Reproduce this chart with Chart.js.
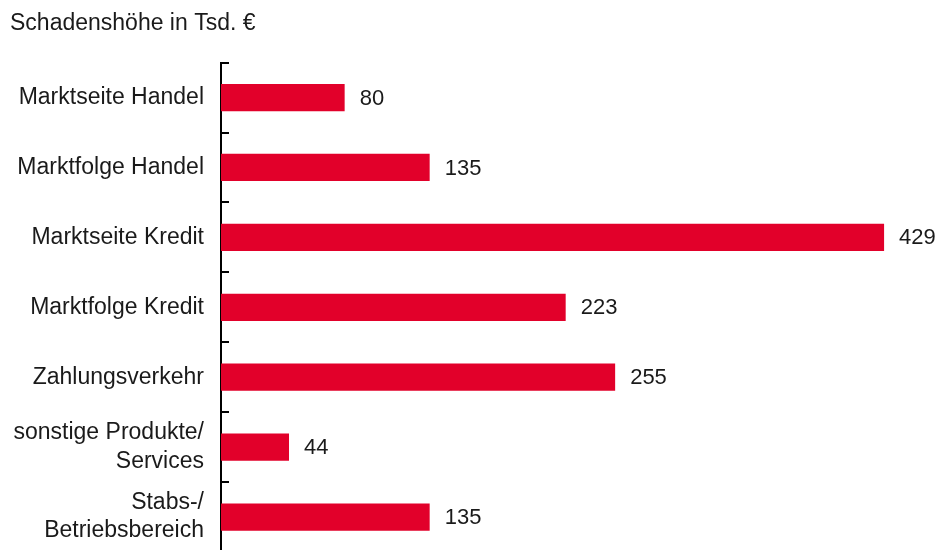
<!DOCTYPE html>
<html>
<head>
<meta charset="utf-8">
<script src="https://cdn.jsdelivr.net/npm/chart.js@4.4.0/dist/chart.umd.min.js"></script>
<style>
  html, body { margin: 0; padding: 0; background: #fff; }
  #wrap { width: 936px; height: 550px; overflow: hidden; }
  #damage_chart { display: block; width: 936px; height: 552px; }
</style>
</head>
<body>
<div id="wrap"><canvas id="damage_chart" width="936" height="552"></canvas></div>
<script>
// data
const categories = [
  'Marktseite Handel',
  'Marktfolge Handel',
  'Marktseite Kredit',
  'Marktfolge Kredit',
  'Zahlungsverkehr',
  ['sonstige Produkte/', 'Services'],
  ['Stabs-/', 'Betriebsbereich']
];
const damageValues = [80, 135, 429, 223, 255, 44, 135];
const titleText = 'Schadenshöhe in Tsd. €';

const barRed = '#e2002a';
const textColor = '#1a1a1a';
const fontFamily = '"Liberation Sans", Arial, sans-serif';

// value labels right of the bars
const valueLabels = {
  id: 'valueLabels',
  afterDatasetsDraw(chart) {
    const ctx = chart.ctx;
    const meta = chart.getDatasetMeta(0);
    ctx.save();
    ctx.font = '22px ' + fontFamily;
    ctx.fillStyle = textColor;
    ctx.textAlign = 'left';
    ctx.textBaseline = 'middle';
    meta.data.forEach((bar, i) => {
      ctx.fillText(String(damageValues[i]), bar.x + 15, bar.y + 1);
    });
    ctx.restore();
  }
};

// small ticks on the inside of the axis, between the categories
const innerTicks = {
  id: 'innerTicks',
  afterDraw(chart) {
    const y = chart.scales.y;
    const ctx = chart.ctx;
    const left = chart.chartArea.left;
    ctx.save();
    ctx.strokeStyle = '#000';
    ctx.lineWidth = 2;
    for (let i = 0; i < categories.length; i++) {
      const py = Math.round(y.getPixelForValue(i - 0.5));
      ctx.beginPath();
      ctx.moveTo(left - 1, py);
      ctx.lineTo(left + 8, py);
      ctx.stroke();
    }
    ctx.restore();
  }
};

const ctx = document.getElementById('damage_chart').getContext('2d');
new Chart(ctx, {
  type: 'bar',
  data: {
    labels: categories,
    datasets: [{
      data: damageValues,
      backgroundColor: barRed,
      borderWidth: 0,
      barPercentage: 0.39,
      categoryPercentage: 1
    }]
  },
  options: {
    indexAxis: 'y',
    responsive: false,
    maintainAspectRatio: false,
    animation: false,
    layout: { padding: { left: 10, right: 4, top: 0, bottom: 0 } },
    plugins: {
      legend: { display: false },
      tooltip: { enabled: false },
      title: {
        display: true,
        text: titleText,
        align: 'start',
        color: textColor,
        font: { family: fontFamily, size: 23, weight: 'normal' },
        padding: { top: 10, bottom: 25 }
      }
    },
    scales: {
      x: {
        display: false,
        min: 0,
        max: 460
      },
      y: {
        afterFit(scale) {
          scale.width = 211;
          // labels sit mid-category, no extra room needed at the ends
          scale.paddingTop = 0;
          scale.paddingBottom = 0;
        },
        grid: { display: true, drawOnChartArea: false, drawTicks: false },
        border: { display: true, color: '#000', width: 2 },
        ticks: {
          color: textColor,
          padding: 17,
          font: { family: fontFamily, size: 23, lineHeight: 1.22 }
        }
      }
    }
  },
  plugins: [valueLabels, innerTicks]
});
</script>
</body>
</html>
